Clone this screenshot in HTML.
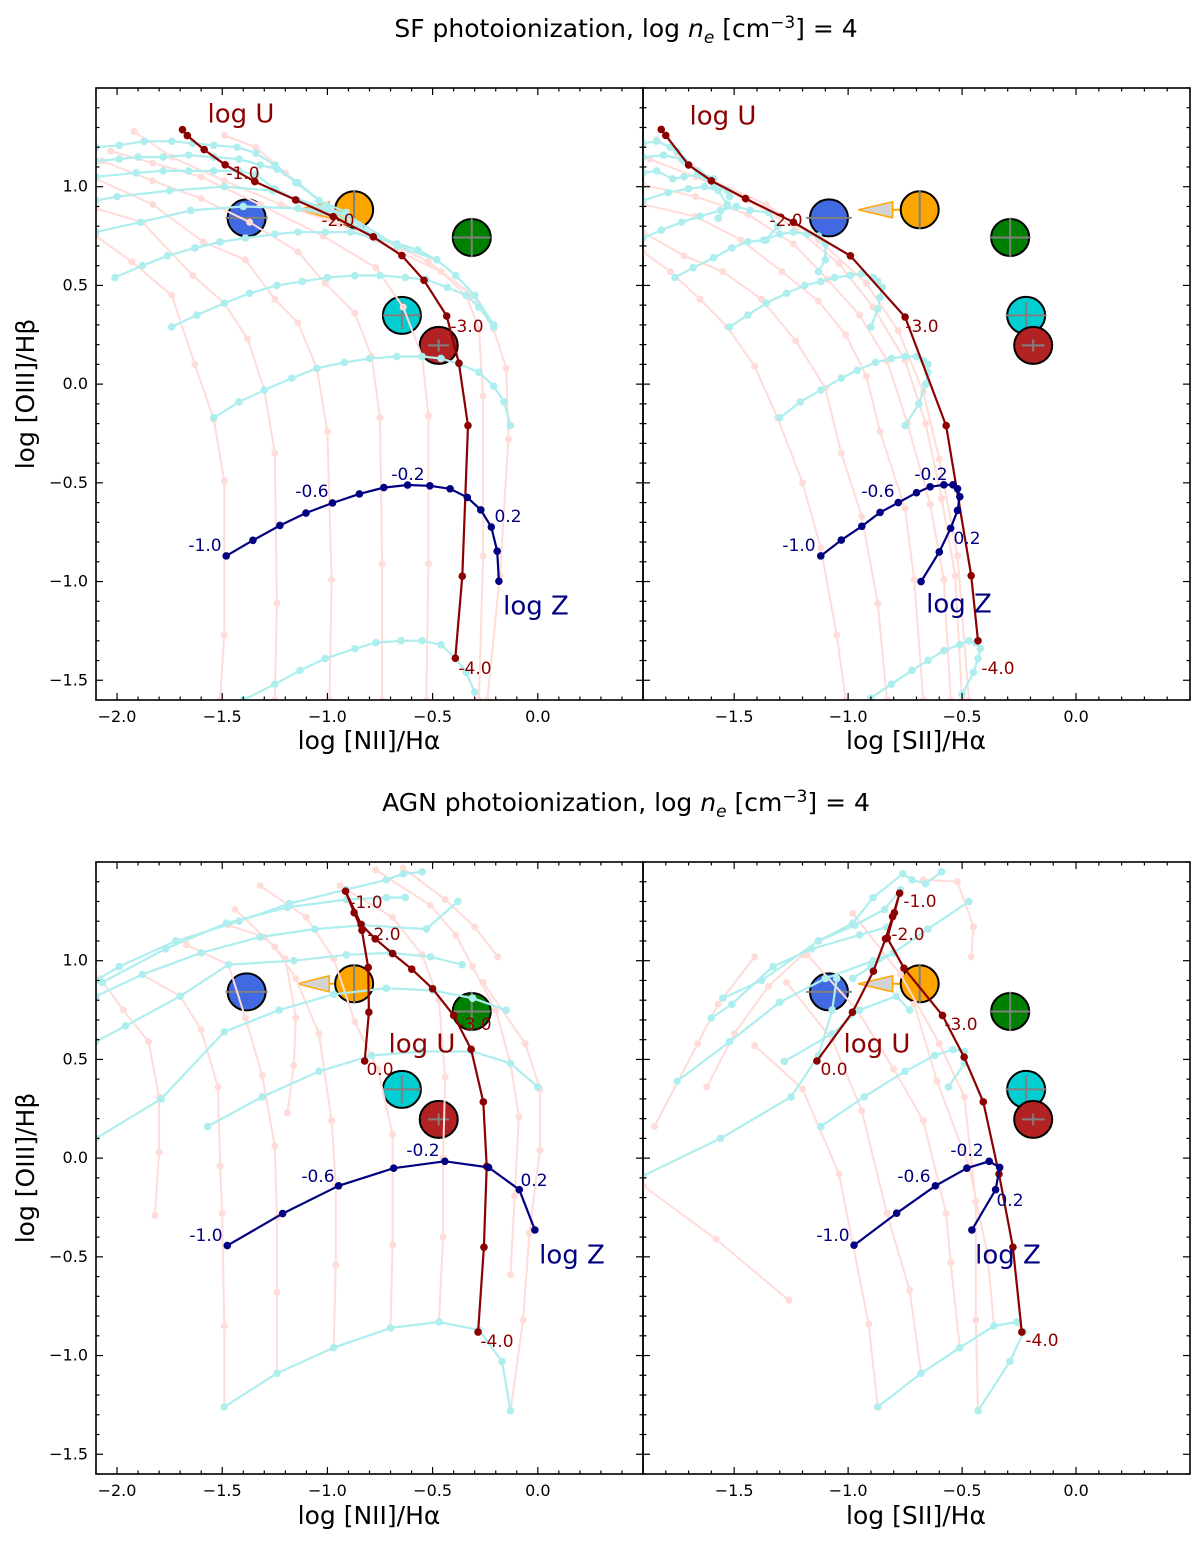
<!DOCTYPE html>
<html><head><meta charset="utf-8"><title>BPT diagrams</title>
<style>
html,body{margin:0;padding:0;background:#fff;}
svg{display:block;font-family:"DejaVu Sans","Liberation Sans",sans-serif;}
</style></head>
<body>
<svg id="fig" width="1200" height="1542" viewBox="0 0 1200 1542" xmlns="http://www.w3.org/2000/svg">
<text x="626" y="37" font-size="25" text-anchor="middle">SF photoionization, log <tspan font-style="italic">n</tspan><tspan font-style="italic" font-size="17" dy="6">e</tspan><tspan dy="-6"> [cm</tspan><tspan font-size="17" dy="-9">−3</tspan><tspan dy="9">] = 4</tspan></text>
<text x="626" y="811" font-size="25" text-anchor="middle">AGN photoionization, log <tspan font-style="italic">n</tspan><tspan font-style="italic" font-size="17" dy="6">e</tspan><tspan dy="-6"> [cm</tspan><tspan font-size="17" dy="-9">−3</tspan><tspan dy="9">] = 4</tspan></text>
<text transform="translate(34,394) rotate(-90)" font-size="25" text-anchor="middle">log [OIII]/Hβ</text>
<text transform="translate(34,1168) rotate(-90)" font-size="25" text-anchor="middle">log [OIII]/Hβ</text>
<text x="369" y="749" font-size="25" text-anchor="middle">log [NII]/Hα</text>
<text x="916" y="749" font-size="25" text-anchor="middle">log [SII]/Hα</text>
<text x="369" y="1524" font-size="25" text-anchor="middle">log [NII]/Hα</text>
<text x="916" y="1524" font-size="25" text-anchor="middle">log [SII]/Hα</text>
</svg>
<script>
// ---------- shared data ----------
const yTicks = [-1.5,-1.0,-0.5,0.0,0.5,1.0];
const xTicksNii = [-2.0,-1.5,-1.0,-0.5,0.0];
const xTicksSii = [-1.5,-1.0,-0.5,0.0];
const objNames = ['blue','orange','green','cyan','red'];
const objColors = ['#4169e1','#ffa500','#008000','#00ced1','#b22222'];
const objY = [0.842,0.883,0.743,0.348,0.196];
const objXNii = [-1.384,-0.873,-0.314,-0.646,-0.471];
const objXSii = [-1.084,-0.686,-0.289,-0.219,-0.188];
const objErrX = [0.10,0,0.09,0.09,0.05];
const objErrY = [0,0.10,0.10,0.07,0.03];
const limitIndex = 1;
const limitLength = 0.27;

// ---------- SF, NII ----------
const sfNiiPinkX = [
[-2.10,-1.93,-1.74,-1.63,-1.54,-1.49,-1.49,-1.51],
[-2.10,-1.88,-1.64,-1.49,-1.38,-1.30,-1.25,-1.24,-1.25],
[-2.10,-1.83,-1.59,-1.39,-1.25,-1.14,-1.05,-1.00,-0.98,-0.99],
[-2.07,-1.83,-1.60,-1.37,-1.14,-1.01,-0.87,-0.79,-0.75,-0.74,-0.74],
[-2.03,-1.83,-1.60,-1.32,-1.02,-0.77,-0.64,-0.55,-0.52,-0.52,-0.53],
[-1.92,-1.74,-1.49,-1.22,-0.94,-0.66,-0.46,-0.34,-0.28,-0.26,-0.26,-0.28],
[-1.49,-1.34,-1.20,-1.01,-0.77,-0.52,-0.31,-0.21,-0.15,-0.14,-0.18,-0.24]];
const sfNiiPinkY = [
[0.75,0.62,0.45,0.10,-0.18,-0.49,-1.27,-1.60],
[0.89,0.82,0.55,0.41,0.23,-0.03,-0.35,-1.11,-1.60],
[1.04,0.91,0.72,0.63,0.43,0.31,0.08,-0.24,-0.99,-1.60],
[1.13,1.03,0.94,0.82,0.67,0.51,0.36,0.14,-0.17,-0.91,-1.60],
[1.18,1.12,1.05,0.91,0.75,0.59,0.39,0.14,-0.16,-0.91,-1.60],
[1.28,1.15,1.03,0.91,0.81,0.67,0.57,0.45,0.28,-0.06,-0.87,-1.60],
[1.26,1.20,1.07,0.91,0.75,0.62,0.45,0.28,0.08,-0.28,-0.97,-1.60]];
const sfNiiCyanX = [
[-2.10,-1.99,-1.87,-1.74,-1.64,-1.54,-1.43,-1.34,-1.25,-1.15,-1.00],
[-2.10,-1.99,-1.90,-1.78,-1.66,-1.54,-1.42,-1.32,-1.24,-1.14,-1.04,-0.91],
[-2.10,-1.91,-1.78,-1.66,-1.54,-1.42,-1.34,-1.25,-1.14,-1.01,-0.91,-0.78],
[-2.10,-2.00,-1.75,-1.49,-1.26,-1.01,-0.78,-0.57,-0.48],
[-2.10,-1.89,-1.65,-1.40,-1.14,-0.91,-0.67,-0.48,-0.39,-0.30],
[-2.01,-1.88,-1.76,-1.63,-1.51,-1.39,-1.25,-1.14,-1.01,-0.89,-0.77,-0.67,-0.57,-0.48,-0.39,-0.30,-0.21],
[-1.74,-1.62,-1.49,-1.37,-1.24,-1.12,-1.00,-0.87,-0.75,-0.63,-0.53,-0.43,-0.34,-0.28,-0.21],
[-1.54,-1.42,-1.30,-1.17,-1.05,-0.92,-0.80,-0.67,-0.55,-0.46,-0.37,-0.28,-0.21,-0.16,-0.13],
[-1.40,-1.25,-1.13,-1.01,-0.87,-0.77,-0.65,-0.55,-0.46,-0.39,-0.34,-0.30]];
const sfNiiCyanY = [
[1.20,1.21,1.23,1.23,1.22,1.21,1.20,1.17,1.11,1.02,0.90],
[1.13,1.14,1.15,1.15,1.16,1.15,1.14,1.11,1.09,1.02,0.93,0.87],
[1.05,1.07,1.08,1.08,1.08,1.08,1.06,0.99,0.93,0.89,0.86,0.75],
[0.93,0.95,0.98,1.00,0.98,0.89,0.75,0.68,0.63],
[0.77,0.82,0.88,0.90,0.89,0.86,0.70,0.63,0.55,0.45],
[0.54,0.60,0.65,0.69,0.72,0.74,0.76,0.77,0.77,0.77,0.74,0.71,0.68,0.63,0.55,0.45,0.30],
[0.29,0.35,0.41,0.46,0.50,0.52,0.54,0.55,0.55,0.54,0.53,0.49,0.45,0.39,0.29],
[-0.17,-0.09,-0.03,0.03,0.08,0.11,0.13,0.14,0.14,0.13,0.10,0.06,-0.01,-0.09,-0.21],
[-1.60,-1.52,-1.45,-1.39,-1.34,-1.31,-1.30,-1.30,-1.32,-1.39,-1.46,-1.56]];
const sfNiiUX = [-1.689,-1.666,-1.586,-1.486,-1.345,-1.151,-0.972,-0.782,-0.646,-0.541,-0.433,-0.375,-0.332,-0.359,-0.392];
const sfNiiUY = [1.289,1.259,1.188,1.111,1.026,0.933,0.848,0.746,0.651,0.526,0.345,0.106,-0.210,-0.973,-1.388];
const sfNiiZX = [-1.481,-1.354,-1.226,-1.102,-0.976,-0.848,-0.732,-0.619,-0.513,-0.417,-0.335,-0.271,-0.221,-0.193,-0.185];
const sfNiiZY = [-0.870,-0.791,-0.716,-0.653,-0.602,-0.556,-0.524,-0.511,-0.515,-0.530,-0.574,-0.637,-0.724,-0.846,-0.998];

// ---------- SF, SII ----------
const sfSiiPinkX = [
[-1.90,-1.78,-1.65,-1.53,-1.41,-1.31,-1.20,-1.12,-1.05,-1.01],
[-1.90,-1.72,-1.55,-1.38,-1.23,-1.10,-1.03,-0.94,-0.87,-0.83],
[-1.90,-1.67,-1.47,-1.29,-1.13,-1.01,-0.92,-0.86,-0.75,-0.71,-0.67],
[-1.90,-1.67,-1.44,-1.24,-1.09,-0.95,-0.83,-0.74,-0.64,-0.58,-0.55],
[-1.87,-1.67,-1.44,-1.23,-1.04,-0.89,-0.75,-0.66,-0.59,-0.53,-0.50],
[-1.84,-1.75,-1.59,-1.36,-1.13,-0.92,-0.78,-0.67,-0.60,-0.52,-0.47]];
const sfSiiPinkY = [
[0.67,0.57,0.43,0.29,0.09,-0.17,-0.50,-0.83,-1.27,-1.60],
[0.77,0.65,0.57,0.43,0.22,-0.02,-0.35,-0.67,-1.11,-1.60],
[0.91,0.85,0.73,0.57,0.42,0.25,0.04,-0.24,-0.63,-0.99,-1.60],
[1.01,0.95,0.86,0.71,0.53,0.35,0.12,-0.20,-0.61,-0.99,-1.60],
[1.14,1.05,0.93,0.79,0.61,0.39,0.12,-0.20,-0.58,-0.97,-1.60],
[1.24,1.17,1.03,0.91,0.73,0.51,0.27,-0.04,-0.38,-0.87,-1.60]];
const sfSiiCyanX = [
[-1.90,-1.84,-1.78,-1.75,-1.72],
[-1.90,-1.81,-1.73,-1.70,-1.66,-1.59],
[-1.90,-1.84,-1.77,-1.72,-1.66,-1.59,-1.53,-1.52],
[-1.90,-1.79,-1.70,-1.63,-1.57,-1.53,-1.57],
[-1.90,-1.82,-1.73,-1.65,-1.56,-1.49,-1.43,-1.35,-1.31,-1.36],
[-1.76,-1.68,-1.59,-1.51,-1.44,-1.37,-1.30,-1.24,-1.18,-1.13,-1.10,-1.10,-1.13],
[-1.52,-1.44,-1.36,-1.27,-1.19,-1.12,-1.06,-0.99,-0.94,-0.89,-0.87,-0.85,-0.86,-0.87,-0.90],
[-1.30,-1.21,-1.12,-1.03,-0.96,-0.88,-0.81,-0.75,-0.70,-0.67,-0.65,-0.65,-0.66,-0.69,-0.75],
[-0.90,-0.81,-0.72,-0.65,-0.58,-0.51,-0.47,-0.44,-0.42,-0.43,-0.45,-0.50]];
const sfSiiCyanY = [
[1.22,1.23,1.20,1.18,1.13],
[1.15,1.16,1.14,1.11,1.08,1.04],
[1.07,1.08,1.04,1.05,1.06,1.01,0.98,0.95],
[0.93,0.97,0.99,1.00,0.98,0.91,0.84],
[0.74,0.78,0.82,0.85,0.88,0.90,0.88,0.87,0.80,0.73],
[0.54,0.59,0.64,0.69,0.72,0.73,0.76,0.77,0.76,0.75,0.71,0.63,0.57],
[0.29,0.35,0.41,0.46,0.50,0.52,0.54,0.55,0.56,0.54,0.52,0.49,0.44,0.38,0.29],
[-0.17,-0.09,-0.03,0.03,0.07,0.11,0.13,0.14,0.14,0.12,0.10,0.06,0.00,-0.10,-0.21],
[-1.59,-1.52,-1.45,-1.40,-1.35,-1.32,-1.30,-1.31,-1.34,-1.39,-1.46,-1.57]];
const sfSiiUX = [-1.82,-1.80,-1.70,-1.60,-1.45,-1.24,-0.99,-0.75,-0.57,-0.46,-0.43];
const sfSiiUY = [1.29,1.26,1.11,1.03,0.94,0.82,0.65,0.34,-0.21,-0.97,-1.30];
const sfSiiZX = [-1.12,-1.03,-0.94,-0.86,-0.78,-0.70,-0.64,-0.58,-0.54,-0.52,-0.51,-0.52,-0.55,-0.60,-0.68];
const sfSiiZY = [-0.87,-0.79,-0.72,-0.65,-0.60,-0.55,-0.52,-0.51,-0.51,-0.53,-0.57,-0.64,-0.73,-0.85,-1.00];

// ---------- AGN, NII ----------
const agnNiiPinkX = [
[-2.08,-1.97,-1.85,-1.80,-1.80,-1.82],
[-1.88,-1.70,-1.60,-1.52,-1.51,-1.50,-1.49,-1.49],
[-1.67,-1.47,-1.39,-1.31,-1.25,-1.24,-1.24,-1.24],
[-1.47,-1.30,-1.20,-1.15,-1.16,-1.19],
[-1.44,-1.25,-1.15,-1.04,-0.98,-0.96,-0.96,-0.97],
[-1.32,-1.10,-0.97,-0.87,-0.76,-0.69,-0.69,-0.70],
[-0.94,-0.69,-0.55,-0.47,-0.44,-0.45,-0.45,-0.47],
[-0.77,-0.51,-0.39,-0.31,-0.20,-0.13,-0.09,-0.11,-0.13],
[-0.64,-0.44,-0.30,-0.19],
[-0.26,-0.06,0.01,0.01,-0.04,-0.07,-0.13]];
const agnNiiPinkY = [
[0.91,0.75,0.59,0.31,0.03,-0.29],
[0.93,0.82,0.65,0.36,-0.04,-0.28,-0.85,-1.26],
[1.08,0.98,0.71,0.42,0.06,-0.30,-0.68,-1.09],
[1.18,1.12,1.01,0.71,0.47,0.23],
[1.26,1.07,0.91,0.63,0.19,-0.14,-0.54,-0.96],
[1.38,1.22,1.01,0.69,0.45,0.12,-0.44,-0.86],
[1.38,1.22,1.03,0.80,0.41,-0.00,-0.40,-0.83],
[1.46,1.28,1.13,0.97,0.75,0.48,0.21,-0.19,-0.59],
[1.47,1.31,1.17,1.02],
[0.89,0.58,0.35,0.04,-0.38,-0.82,-1.28]];
const agnNiiCyanX = [
[-2.10,-1.99,-1.72,-1.42,-1.18,-0.91,-0.72,-0.64,-0.55],
[-2.10,-1.88,-1.60,-1.32,-1.06,-0.83,-0.53,-0.38],
[-2.07,-1.77,-1.48,-1.19,-0.91,-0.72,-0.63],
[-2.10,-1.96,-1.70,-1.47,-1.16,-0.91,-0.70,-0.51,-0.36],
[-2.10,-1.79,-1.49,-1.23,-0.97,-0.72,-0.50,-0.31,-0.15],
[-1.57,-1.31,-1.04,-0.79,-0.55,-0.31,-0.13,-0.00],
[-1.49,-1.24,-0.97,-0.70,-0.47,-0.28,-0.17,-0.13]];
const agnNiiCyanY = [
[0.90,0.97,1.10,1.20,1.29,1.36,1.41,1.44,1.45],
[0.82,0.93,1.04,1.12,1.16,1.18,1.16,1.30],
[0.89,1.06,1.19,1.27,1.31,1.32,1.32],
[0.59,0.67,0.82,0.98,1.00,1.03,1.04,1.02,0.98],
[0.10,0.30,0.64,0.75,0.83,0.86,0.85,0.81,0.75],
[0.16,0.31,0.44,0.52,0.54,0.54,0.48,0.36],
[-1.26,-1.09,-0.96,-0.86,-0.83,-0.87,-1.03,-1.28]];
const agnNiiUX = [-0.823,-0.803,-0.806,-0.836,-0.873,-0.914,-0.840,-0.773,-0.690,-0.599,-0.500,-0.400,-0.317,-0.259,-0.243,-0.256,-0.284];
const agnNiiUY = [0.492,0.739,0.966,1.154,1.243,1.352,1.184,1.111,1.036,0.957,0.858,0.723,0.551,0.285,-0.042,-0.451,-0.881];
const agnNiiZX = [-1.476,-1.213,-0.947,-0.685,-0.442,-0.234,-0.088,-0.014];
const agnNiiZY = [-0.443,-0.281,-0.140,-0.051,-0.016,-0.047,-0.160,-0.364];

// ---------- AGN, SII ----------
const agnSiiPinkX = [
[-1.90,-1.58,-1.26],
[-1.85,-1.66,-1.57,-1.41],
[-1.62,-1.50,-1.35,-1.20],
[-1.41,-1.20,-1.04,-0.91,-0.87],
[-1.27,-1.07,-0.94,-0.83,-0.73,-0.68],
[-1.18,-0.96,-0.80,-0.67,-0.57,-0.55,-0.51],
[-0.98,-0.77,-0.60,-0.49,-0.44,-0.44,-0.43],
[-0.67,-0.52,-0.45,-0.46],
[-0.71,-0.61,-0.47,-0.39,-0.36]];
const agnSiiPinkY = [
[-0.14,-0.41,-0.72],
[0.16,0.58,0.78,1.02],
[0.36,0.63,0.87,1.03],
[0.57,0.35,-0.08,-0.84,-1.26],
[0.89,0.60,0.24,-0.28,-0.67,-1.09],
[1.03,0.75,0.45,0.19,-0.28,-0.53,-0.96],
[1.24,0.93,0.58,0.31,-0.22,-0.82,-1.28],
[1.41,1.40,1.17,1.02],
[0.78,0.39,-0.04,-0.48,-0.85]];
const agnSiiCyanX = [
[-1.90,-1.56,-1.25,-1.13,-1.07,-1.05],
[-1.75,-1.52,-1.30,-1.10,-0.89,-0.80],
[-1.60,-1.51,-1.33,-1.16,-0.95,-0.83],
[-1.55,-1.38,-1.13,-0.97,-0.84,-0.77],
[-1.28,-1.07,-0.95,-0.79,-0.73],
[-1.12,-0.93,-0.75,-0.62,-0.54,-0.49,-0.49,-0.56],
[-0.87,-0.68,-0.51,-0.36,-0.26,-0.23,-0.29,-0.43],
[-1.13,-0.98,-0.89,-0.76,-0.72,-0.66,-0.59],
[-0.47,-0.65,-0.80,-0.90,-0.98]];
const agnSiiCyanY = [
[-0.09,0.10,0.31,0.52,0.75,0.91],
[0.39,0.59,0.79,0.91,1.00,1.04],
[0.71,0.78,0.97,1.06,1.13,1.17],
[0.81,0.90,1.10,1.18,1.26,1.36],
[0.49,0.63,0.75,0.82,0.75],
[0.16,0.31,0.44,0.52,0.55,0.54,0.48,0.36],
[-1.26,-1.09,-0.96,-0.85,-0.83,-0.88,-1.03,-1.28],
[1.10,1.19,1.32,1.44,1.41,1.39,1.45],
[1.30,1.16,1.04,0.97,0.91]];
const agnSiiUX = [-1.137,-0.981,-0.889,-0.836,-0.805,-0.774,-0.797,-0.828,-0.755,-0.586,-0.491,-0.407,-0.338,-0.277,-0.238];
const agnSiiUY = [0.492,0.739,0.947,1.111,1.223,1.342,1.243,1.115,0.962,0.723,0.512,0.285,-0.081,-0.451,-0.881];
const agnSiiZX = [-0.974,-0.787,-0.617,-0.479,-0.381,-0.335,-0.353,-0.457];
const agnSiiZY = [-0.441,-0.279,-0.140,-0.051,-0.016,-0.047,-0.160,-0.364];

// annotation labels (pixel anchors, text)
const labelText = ['log U','-1.0','-2.0','-3.0','-4.0','-1.0','-0.6','-0.2','0.2','log Z','0.0'];

const NS = 'http://www.w3.org/2000/svg';
const svg = document.getElementById('fig');
function el(tag, attrs, parent){
  const e = document.createElementNS(NS, tag);
  for (const k in attrs) e.setAttribute(k, attrs[k]);
  (parent||svg).appendChild(e);
  return e;
}

const panels = [
 {name:'sf-nii', px0:96, px1:643, py0:88, py1:700, xmin:-2.1, xmax:0.5, xticks:xTicksNii, ylabels:true,
  pinkX:sfNiiPinkX, pinkY:sfNiiPinkY, cyanX:sfNiiCyanX, cyanY:sfNiiCyanY, uX:sfNiiUX, uY:sfNiiUY, zX:sfNiiZX, zY:sfNiiZY, objX:objXNii, showLimit:true,
  labels:[[241,113,0,'U'],[243,173,1,'u'],[338,220,2,'u'],[467,326,3,'u'],[475,668,4,'u'],[205,545,5,'z'],[312,491,6,'z'],[408,474,7,'z'],[508,516,8,'z'],[536,605,9,'Z']]},
 {name:'sf-sii', px0:643, px1:1190, py0:88, py1:700, xmin:-1.9, xmax:0.5, xticks:xTicksSii, ylabels:false,
  pinkX:sfSiiPinkX, pinkY:sfSiiPinkY, cyanX:sfSiiCyanX, cyanY:sfSiiCyanY, uX:sfSiiUX, uY:sfSiiUY, zX:sfSiiZX, zY:sfSiiZY, objX:objXSii, showLimit:true,
  labels:[[723,115,0,'U'],[786,220,2,'u'],[922,326,3,'u'],[998,668,4,'u'],[799,545,5,'z'],[878,491,6,'z'],[931,474,7,'z'],[967,538,8,'z'],[959,603,9,'Z']]},
 {name:'agn-nii', px0:96, px1:643, py0:862, py1:1474, xmin:-2.1, xmax:0.5, xticks:xTicksNii, ylabels:true,
  pinkX:agnNiiPinkX, pinkY:agnNiiPinkY, cyanX:agnNiiCyanX, cyanY:agnNiiCyanY, uX:agnNiiUX, uY:agnNiiUY, zX:agnNiiZX, zY:agnNiiZY, objX:objXNii, showLimit:true,
  labels:[[422,1043,0,'U'],[380,1069,10,'u'],[366,902,1,'u'],[384,934,2,'u'],[475,1024,3,'u'],[497,1341,4,'u'],[206,1235,5,'z'],[318,1176,6,'z'],[423,1150,7,'z'],[534,1180,8,'z'],[572,1254,9,'Z']]},
 {name:'agn-sii', px0:643, px1:1190, py0:862, py1:1474, xmin:-1.9, xmax:0.5, xticks:xTicksSii, ylabels:false,
  pinkX:agnSiiPinkX, pinkY:agnSiiPinkY, cyanX:agnSiiCyanX, cyanY:agnSiiCyanY, uX:agnSiiUX, uY:agnSiiUY, zX:agnSiiZX, zY:agnSiiZY, objX:objXSii, showLimit:true,
  labels:[[877,1043,0,'U'],[834,1069,10,'u'],[920,901,1,'u'],[908,934,2,'u'],[961,1024,3,'u'],[1042,1340,4,'u'],[833,1235,5,'z'],[914,1176,6,'z'],[967,1150,7,'z'],[1010,1200,8,'z'],[1008,1254,9,'Z']]}
];
const YMIN = -1.6, YMAX = 1.5;

panels.forEach(function(p){
  const sx = function(v){ return p.px0 + (v - p.xmin) / (p.xmax - p.xmin) * (p.px1 - p.px0); };
  const sy = function(v){ return p.py1 - (v - YMIN) / (YMAX - YMIN) * (p.py1 - p.py0); };
  const g = el('g', {});
  
  
  const clipId = 'clip-' + p.name;
  const cp = el('clipPath', {id: clipId}, g);
  el('rect', {x:p.px0, y:p.py0, width:p.px1-p.px0, height:p.py1-p.py0}, cp);
  const plot = el('g', {'clip-path':'url(#'+clipId+')'}, g);

  const og = el('g', {}, plot);
  
  
  for (let i = 0; i < objY.length; i++){
    const cx = sx(p.objX[i]), cy = sy(objY[i]);
    if (p.showLimit && i === limitIndex){
      const tip = sx(p.objX[i] - limitLength);
      const base = sx(p.objX[i] - limitLength*0.44);
      const arrow = el('g', {}, og);
      
      
      el('line', {x1:cx, y1:cy, x2:base, y2:cy, stroke:'#ffa500', 'stroke-width':2}, arrow);
      el('polygon', {points: base+','+(cy-8)+' '+base+','+(cy+8)+' '+tip+','+cy, fill:'#d3d3d3', stroke:'#ffa500', 'stroke-width':1.5}, arrow);
    }
    const c = el('ellipse', {cx:cx, cy:cy, rx:19, ry:18.5, fill:objColors[i], stroke:'#000', 'stroke-width':2}, og);
    
    
    if (objErrX[i] > 0) el('line', {x1:sx(p.objX[i]-objErrX[i]), y1:cy, x2:sx(p.objX[i]+objErrX[i]), y2:cy, stroke:'#808080', 'stroke-width':2}, og);
    if (objErrY[i] > 0) el('line', {x1:cx, y1:sy(objY[i]-objErrY[i]), x2:cx, y2:sy(objY[i]+objErrY[i]), stroke:'#808080', 'stroke-width':2}, og);
  }

  function series(xs, ys, color, width, r, name){
    const sg = el('g', {}, plot);
    
    
    let d = '';
    for (let i = 0; i < xs.length; i++) d += (i ? 'L' : 'M') + sx(xs[i]).toFixed(1) + ',' + sy(ys[i]).toFixed(1);
    el('path', {d:d, fill:'none', stroke:color, 'stroke-width':width, 'stroke-linejoin':'round'}, sg);
    for (let i = 0; i < xs.length; i++) el('circle', {cx:sx(xs[i]), cy:sy(ys[i]), r:r, fill:color}, sg);
  }
  p.pinkX.forEach(function(xs, k){ series(xs, p.pinkY[k], '#ffdcd8', 2, 3.5, 'constant-z-track'); });
  p.cyanX.forEach(function(xs, k){ series(xs, p.cyanY[k], '#aeeeee', 2.2, 3.8, 'constant-u-track'); });
  series(p.uX, p.uY, '#8b0000', 2.2, 3.8, 'log-u-track');
  series(p.zX, p.zY, '#000080', 2.2, 3.8, 'log-z-track');

  p.labels.forEach(function(L){
    const kind = L[3];
    const color = (kind === 'U' || kind === 'u') ? '#8b0000' : '#000080';
    const size = (kind === 'U' || kind === 'Z') ? 26 : 17;
    const t = el('text', {x:L[0], y:L[1] + size*0.36, fill:color, 'font-size':size, 'text-anchor':'middle'}, g);
    t.textContent = labelText[L[2]];
    
    
  });

  const fr = el('rect', {x:p.px0, y:p.py0, width:p.px1-p.px0, height:p.py1-p.py0, fill:'none', stroke:'#000', 'stroke-width':1.6}, g);
  
  

  const tg = el('g', {stroke:'#000', 'stroke-width':1.2}, g);
  
  
  for (let v = Math.ceil(p.xmin*10); v <= Math.floor(p.xmax*10); v++){
    const x = sx(v/10);
    const major = p.xticks.some(function(t){ return Math.abs(t - v/10) < 1e-6; });
    const L = major ? 7 : 3.5;
    el('line', {x1:x, y1:p.py1, x2:x, y2:p.py1-L}, tg);
    el('line', {x1:x, y1:p.py0, x2:x, y2:p.py0+L}, tg);
  }
  for (let v = Math.ceil(YMIN*10); v <= Math.floor(YMAX*10); v++){
    const y = sy(v/10);
    const major = yTicks.some(function(t){ return Math.abs(t - v/10) < 1e-6; });
    const L = major ? 7 : 3.5;
    el('line', {x1:p.px0, y1:y, x2:p.px0+L, y2:y}, tg);
    el('line', {x1:p.px1, y1:y, x2:p.px1-L, y2:y}, tg);
  }
  p.xticks.forEach(function(t){
    const tx = el('text', {x:sx(t), y:p.py1+22, 'font-size':16, 'text-anchor':'middle', fill:'#000'}, g);
    tx.textContent = (t < 0 ? '\u2212' : '') + Math.abs(t).toFixed(1);
    
    
  });
  if (p.ylabels) yTicks.forEach(function(t){
    const ty = el('text', {x:p.px0-8, y:sy(t)+5, 'font-size':16, 'text-anchor':'end', fill:'#000'}, g);
    ty.textContent = (t < 0 ? '\u2212' : '') + Math.abs(t).toFixed(1);
    
    
  });
});
</script>
</body></html>
